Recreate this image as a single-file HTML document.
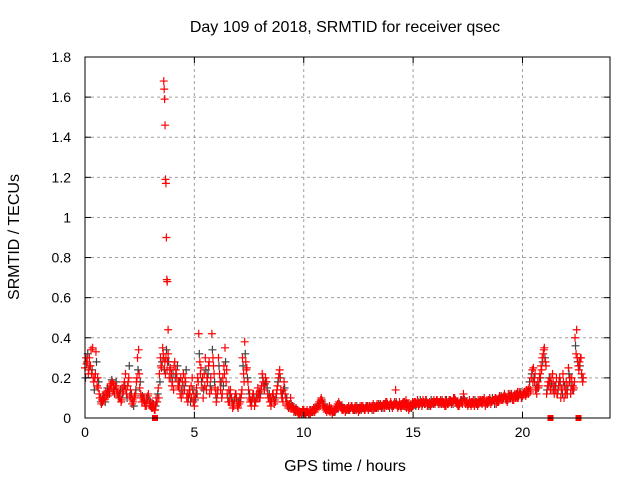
<!DOCTYPE html>
<html><head><meta charset="utf-8"><style>
body{margin:0;background:#fff;}
svg{display:block;font-family:"Liberation Sans",sans-serif;}
</style></head><body>
<svg id="chart" width="640" height="480" viewBox="0 0 640 480">
<rect width="640" height="480" fill="#fff"/>
<g id="grid"></g>
<g id="marks"></g>
<rect x="85" y="57" width="525" height="361" fill="none" stroke="#000" stroke-width="1"/>
<g id="ticks"></g>
<text x="345" y="32" font-size="16" text-anchor="middle">Day 109 of 2018, SRMTID for receiver qsec</text>
<text x="345" y="471" font-size="16" text-anchor="middle">GPS time / hours</text>
<text transform="translate(19,237) rotate(-90)" font-size="16" text-anchor="middle">SRMTID / TECUs</text>
</svg>
<script>
const xTicks=[0,5,10,15,20];
const yTicks=[0,0.2,0.4,0.6,0.8,1,1.2,1.4,1.6,1.8];
const yTickLabels=["0","0.2","0.4","0.6","0.8","1","1.2","1.4","1.6","1.8"];
const seriesAStart=0.0;
const seriesA=[0.25,0.28,0.30,0.22,0.18,0.33,0.15,0.10,0.08,0.10,0.12,
0.14,0.15,0.17,0.16,0.13,0.10,0.15,0.18,0.12,0.20,
0.10,0.08,0.12,0.30,0.15,0.08,0.10,0.06,0.12,0.08,
0.05,0.04,0.08,0.22,0.25,0.30,0.30,0.32,0.25,0.18,
0.28,0.20,0.15,0.10,0.22,0.18,0.08,0.12,0.20,0.06,
0.15,0.42,0.25,0.10,0.30,0.18,0.12,0.42,0.22,0.08,
0.30,0.14,0.20,0.35,0.12,0.08,0.10,0.06,0.12,0.05,
0.08,0.30,0.38,0.25,0.10,0.06,0.12,0.08,0.15,0.10,
0.22,0.14,0.18,0.10,0.06,0.12,0.08,0.16,0.24,0.10,
0.18,0.08,0.05,0.10,0.06,0.04,0.03,0.02,0.03,0.04,
0.02,0.03,0.02,0.04,0.03,0.05,0.08,0.10,0.06,0.04,
0.05,0.03,0.02,0.04,0.06,0.08,0.05,0.04,0.03,0.05,
0.04,0.06,0.05,0.04,0.03,0.05,0.06,0.04,0.05,0.06,
0.05,0.04,0.06,0.05,0.07,0.06,0.05,0.08,0.06,0.07,
0.06,0.14,0.05,0.07,0.06,0.08,0.05,0.04,0.07,0.06,
0.08,0.09,0.07,0.06,0.08,0.09,0.07,0.06,0.08,0.07,
0.09,0.08,0.07,0.08,0.06,0.07,0.09,0.08,0.10,0.07,
0.06,0.08,0.12,0.07,0.06,0.08,0.07,0.06,0.08,0.07,
0.09,0.08,0.06,0.07,0.10,0.08,0.09,0.07,0.08,0.10,
0.09,0.11,0.08,0.10,0.12,0.09,0.11,0.10,0.12,0.11,
0.13,0.12,0.15,0.20,0.25,0.14,0.18,0.22,0.30,0.35,
0.12,0.16,0.20,0.18,0.14,0.12,0.20,0.15,0.10,0.18,
0.25,0.12,0.16,0.40,0.30,0.28,0.22];
const seriesBStart=0.05;
const seriesB=[0.30,0.22,0.26,0.35,0.20,0.16,0.12,0.07,0.09,0.13,0.11,
0.16,0.18,0.12,0.14,0.10,0.08,0.13,0.22,0.16,0.11,
0.07,0.10,0.18,0.34,0.12,0.10,0.06,0.09,0.07,0.05,
0.06,0.10,0.15,0.30,0.35,0.28,0.24,0.20,0.22,0.14,
0.24,0.16,0.12,0.18,0.14,0.10,0.12,0.16,0.08,0.10,
0.20,0.28,0.15,0.22,0.14,0.26,0.20,0.30,0.15,0.12,
0.22,0.10,0.26,0.18,0.08,0.14,0.05,0.10,0.08,0.07,
0.12,0.22,0.28,0.18,0.08,0.10,0.06,0.12,0.10,0.14,
0.18,0.20,0.12,0.08,0.10,0.07,0.12,0.20,0.14,0.08,
0.12,0.06,0.07,0.05,0.03,0.05,0.02,0.03,0.04,0.02,
0.04,0.02,0.03,0.05,0.04,0.07,0.06,0.08,0.05,0.03,
0.04,0.05,0.03,0.05,0.07,0.06,0.04,0.05,0.04,0.06,
0.05,0.04,0.06,0.05,0.04,0.06,0.05,0.06,0.04,0.05,
0.06,0.05,0.07,0.06,0.05,0.07,0.08,0.06,0.07,0.05,
0.08,0.07,0.06,0.05,0.08,0.07,0.06,0.05,0.06,0.08,
0.07,0.06,0.08,0.09,0.07,0.06,0.08,0.07,0.09,0.08,
0.07,0.09,0.08,0.06,0.08,0.09,0.07,0.10,0.08,0.06,
0.08,0.07,0.09,0.08,0.07,0.06,0.09,0.08,0.06,0.09,
0.07,0.10,0.08,0.09,0.07,0.09,0.10,0.08,0.11,0.09,
0.11,0.09,0.12,0.10,0.09,0.12,0.10,0.13,0.10,0.12,
0.11,0.14,0.13,0.24,0.18,0.12,0.16,0.26,0.32,0.28,
0.16,0.18,0.14,0.12,0.20,0.16,0.10,0.22,0.14,0.12,
0.18,0.20,0.15,0.32,0.26,0.30,0.18];
const seriesCStart=0.025;
const seriesC=[0.20,0.32,0.26,0.24,0.14,0.28,0.18,0.08,0.11,0.08,0.15,
0.12,0.19,0.14,0.18,0.11,0.14,0.12,0.16,0.10,0.26,
0.12,0.06,0.14,0.24,0.18,0.11,0.08,0.10,0.09,0.06,
0.07,0.06,0.12,0.18,0.28,0.24,0.34,0.28,0.20,0.22,
0.20,0.26,0.18,0.14,0.16,0.24,0.10,0.08,0.14,0.09,
0.12,0.32,0.18,0.14,0.24,0.22,0.16,0.34,0.18,0.10,
0.26,0.18,0.16,0.28,0.10,0.12,0.08,0.09,0.10,0.08,
0.10,0.26,0.32,0.20,0.12,0.08,0.10,0.10,0.12,0.12,
0.20,0.17,0.15,0.12,0.08,0.10,0.10,0.18,0.20,0.12,
0.15,0.10,0.06,0.07,0.05,0.03,0.04,0.03,0.02,0.03,
0.03,0.02,0.04,0.03,0.05,0.06,0.07,0.09,0.07,0.05,
0.04,0.04,0.03,0.03,0.05,0.07,0.06,0.05,0.04,0.04,
0.05,0.05,0.04,0.06,0.05,0.04,0.05,0.05,0.06,0.05,
0.04,0.06,0.05,0.07,0.06,0.05,0.07,0.07,0.05,0.06,
0.07,0.08,0.06,0.06,0.07,0.06,0.07,0.06,0.05,0.07,
0.06,0.08,0.09,0.07,0.07,0.08,0.06,0.09,0.07,0.08,
0.08,0.07,0.09,0.07,0.09,0.08,0.08,0.07,0.09,0.08,
0.07,0.09,0.10,0.08,0.07,0.07,0.08,0.09,0.07,0.08,
0.08,0.09,0.07,0.08,0.09,0.10,0.07,0.09,0.10,0.11,
0.10,0.10,0.09,0.12,0.10,0.11,0.12,0.11,0.13,0.12,
0.12,0.13,0.18,0.22,0.20,0.16,0.15,0.20,0.28,0.30,
0.14,0.20,0.17,0.14,0.16,0.14,0.18,0.12,0.16,0.14,
0.22,0.16,0.14,0.36,0.28,0.26,0.20];
const seriesDStart=0.075;
const seriesD=[0.27,0.24,0.34,0.20,0.22,0.20,0.10,0.09,0.12,0.11,0.13,
0.17,0.13,0.16,0.12,0.12,0.09,0.16,0.14,0.18,0.14,
0.09,0.11,0.20,0.22,0.10,0.09,0.07,0.11,0.06,0.07,
0.04,0.08,0.10,0.26,0.32,0.22,0.28,0.24,0.16,0.26,
0.22,0.18,0.20,0.12,0.20,0.12,0.14,0.10,0.12,0.12,
0.18,0.22,0.20,0.16,0.20,0.28,0.14,0.26,0.12,0.14,
0.18,0.12,0.22,0.24,0.14,0.10,0.07,0.12,0.06,0.10,
0.14,0.18,0.24,0.14,0.09,0.12,0.08,0.10,0.13,0.16,
0.16,0.18,0.10,0.10,0.12,0.09,0.14,0.22,0.12,0.14,
0.10,0.07,0.05,0.06,0.04,0.04,0.03,0.02,0.03,0.03,
0.03,0.04,0.03,0.04,0.05,0.06,0.09,0.07,0.05,0.04,
0.06,0.04,0.03,0.05,0.05,0.06,0.05,0.05,0.05,0.04,
0.06,0.04,0.05,0.05,0.06,0.05,0.04,0.06,0.05,0.06,
0.07,0.05,0.06,0.06,0.06,0.07,0.06,0.06,0.08,0.06,
0.07,0.06,0.08,0.07,0.06,0.09,0.07,0.06,0.08,0.07,
0.07,0.07,0.08,0.08,0.09,0.07,0.07,0.08,0.08,0.09,
0.08,0.08,0.07,0.09,0.07,0.08,0.08,0.09,0.08,0.07,
0.09,0.08,0.08,0.07,0.09,0.08,0.07,0.07,0.09,0.08,
0.09,0.08,0.09,0.08,0.08,0.09,0.10,0.09,0.09,0.10,
0.12,0.10,0.11,0.11,0.11,0.10,0.13,0.12,0.11,0.13,
0.14,0.12,0.14,0.18,0.22,0.15,0.20,0.24,0.34,0.26,
0.18,0.14,0.22,0.16,0.12,0.18,0.14,0.18,0.12,0.16,
0.20,0.14,0.18,0.44,0.24,0.30,0.20];
const spikeHours=[3.6,3.62,3.64,3.66,3.68,3.7,3.72,3.74,3.76,3.8];
const spikeValues=[1.68,1.64,1.59,1.46,1.19,1.17,0.90,0.69,0.68,0.44];
const gapHours=[3.2,21.28,22.56];
const gapValues=[0,0,0];

const X0=85,X1=610,Y0=418,Y1=57,XMAX=24,YMAX=1.8;
const xs=v=>X0+(v/XMAX)*(X1-X0);
const ys=v=>Y0-(v/YMAX)*(Y0-Y1);
const NS="http://www.w3.org/2000/svg";
const grid=document.getElementById('grid'),ticks=document.getElementById('ticks'),marks=document.getElementById('marks');
function mk(tag,attrs,parent){const e=document.createElementNS(NS,tag);for(const k in attrs)e.setAttribute(k,attrs[k]);parent.appendChild(e);return e;}
xTicks.forEach(t=>{
  const x=xs(t);
  if(t>0){const g=mk('line',{x1:x,x2:x,y1:Y1,y2:Y0,stroke:'#a0a0a0','stroke-dasharray':'3,3'},grid);
  
  }
  mk('line',{x1:x,x2:x,y1:Y0,y2:Y0-6,stroke:'#000'},ticks);
  mk('line',{x1:x,x2:x,y1:Y1,y2:Y1+6,stroke:'#000'},ticks);
  const l=mk('text',{x:x,y:Y0+19,'font-size':14,'text-anchor':'middle'},ticks);
  l.textContent=t;
  
  
});
yTicks.forEach((t,i)=>{
  const y=ys(t);
  if(t>0&&t<1.8){const g=mk('line',{x1:X0,x2:X1,y1:y,y2:y,stroke:'#a0a0a0','stroke-dasharray':'3,3'},grid);
  
  }
  mk('line',{x1:X0,x2:X0+6,y1:y,y2:y,stroke:'#000'},ticks);
  mk('line',{x1:X1,x2:X1-6,y1:y,y2:y,stroke:'#000'},ticks);
  const l=mk('text',{x:X0-14,y:y+5,'font-size':14,'text-anchor':'end'},ticks);
  l.textContent=yTickLabels[i];
  
  
});
function cross(h,v,col){
  const x=xs(h),y=ys(v);
  const p=mk('path',{d:`M${x-4},${y}H${x+4}M${x},${y-4}V${y+4}`,stroke:col,'stroke-width':1.2,fill:'none'},marks);
  
  
}
seriesC.forEach((v,i)=>cross(seriesCStart+i*0.1,v,'#404040'));
seriesA.forEach((v,i)=>cross(seriesAStart+i*0.1,v,'#ff0000'));
seriesB.forEach((v,i)=>cross(seriesBStart+i*0.1,v,'#ff0000'));
seriesD.forEach((v,i)=>cross(seriesDStart+i*0.1,v,'#ff0000'));
spikeHours.forEach((h,i)=>cross(h,spikeValues[i],'#ff0000'));
gapHours.forEach((h,i)=>{
  const r=mk('rect',{x:xs(h)-3,y:ys(gapValues[i])-3,width:6,height:6,fill:'#ff0000'},marks);
  
  
});
</script>
</body></html>
